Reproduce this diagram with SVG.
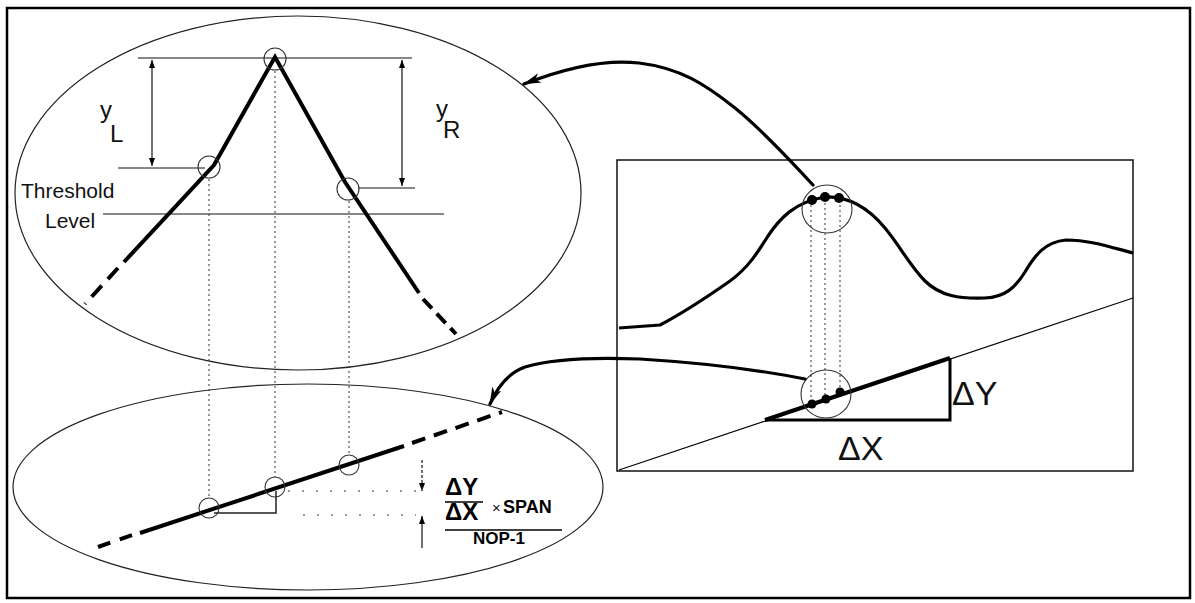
<svg xmlns="http://www.w3.org/2000/svg" width="1195" height="603" viewBox="0 0 1195 603">
<style>
.thin{fill:none;stroke:#111;stroke-width:1.2}
.ell{fill:none;stroke:#222;stroke-width:1.2}
.thick{fill:none;stroke:#000;stroke-width:4;stroke-linecap:butt}
.curve{fill:none;stroke:#000;stroke-width:3.2;stroke-linejoin:round}
.dot{fill:none;stroke:#333;stroke-width:1;stroke-dasharray:2 3}
.sparse{fill:none;stroke:#333;stroke-width:1.2;stroke-dasharray:2 12}
.ring{fill:none;stroke:#333;stroke-width:1.1}
.lbl{font-family:"Liberation Sans",Arial,sans-serif;fill:#111}
.bold{font-family:"Liberation Sans",Arial,sans-serif;font-weight:bold;fill:#000}
.conn{fill:none;stroke:#000;stroke-width:3.2;stroke-linecap:round}
</style>
<defs>
<marker id="head" viewBox="0 0 18 10" refX="17" refY="5" markerWidth="18" markerHeight="10" markerUnits="userSpaceOnUse" orient="auto">
<path d="M0,0 L18,5 L0,10 L5,5 z" fill="#000"/>
</marker>
<marker id="dim" viewBox="0 0 8 6" refX="8" refY="3" markerWidth="8" markerHeight="6" markerUnits="userSpaceOnUse" orient="auto-start-reverse">
<path d="M0,0 L8,3 L0,6 z" fill="#000"/>
</marker>
</defs>
<rect x="7" y="8" width="1183" height="590" fill="#fff" stroke="#000" stroke-width="2.5"/>

<g id="peak-detail">
<ellipse class="ell" cx="298" cy="193" rx="283" ry="177"/>
<line class="thin" x1="138" y1="58" x2="412" y2="58"/>
<line class="thin" x1="118" y1="168" x2="205" y2="168"/>
<line class="thin" x1="358" y1="188" x2="415" y2="188"/>
<line class="thin" x1="103" y1="214" x2="444" y2="214"/>
<line class="thin" x1="152" y1="60" x2="152" y2="166" marker-start="url(#dim)" marker-end="url(#dim)"/>
<line class="thin" x1="402" y1="60" x2="402" y2="186" marker-start="url(#dim)" marker-end="url(#dim)"/>
<path class="thick" d="M124,262 L214,165 L275,57 L345,182 L419,293"/>
<path class="thick" d="M118,268 L85,304" stroke-dasharray="15 9"/>
<path class="thick" d="M423,299 L456,334" stroke-dasharray="13 7"/>
<circle class="ring" cx="275" cy="59" r="11"/>
<circle class="ring" cx="209" cy="167" r="11"/>
<circle class="ring" cx="348" cy="189" r="11"/>
<text class="lbl" x="100" y="118" font-size="24">y</text>
<text class="lbl" x="110" y="142" font-size="24">L</text>
<text class="lbl" x="436" y="117" font-size="24">y</text>
<text class="lbl" x="443" y="138" font-size="24">R</text>
<text class="lbl" x="21" y="198" font-size="21">Threshold</text>
<text class="lbl" x="45" y="228" font-size="21">Level</text>
</g>

<g id="slope-detail">
<ellipse class="ell" cx="308" cy="487" rx="295" ry="103"/>
<path class="thick" d="M140,533 L404,446"/>
<path class="thick" d="M98,547 L138,533" stroke-dasharray="13 10"/>
<path class="thick" d="M412,443 L502,412" stroke-dasharray="14 9"/>
<circle class="ring" cx="209" cy="508" r="10"/>
<circle class="ring" cx="275" cy="487" r="10"/>
<circle class="ring" cx="349" cy="465" r="10"/>
<path fill="none" stroke="#222" stroke-width="1.5" d="M214,513 L276,513 L276,491"/>
<line class="sparse" x1="288" y1="491" x2="416" y2="491"/>
<line class="sparse" x1="303" y1="515" x2="416" y2="515"/>
<line class="thin" x1="422" y1="460" x2="422" y2="491" stroke-dasharray="3 2" marker-end="url(#dim)"/>
<line class="thin" x1="422" y1="548" x2="422" y2="516" marker-end="url(#dim)"/>
<text class="bold" x="445" y="495" font-size="24">ΔY</text>
<line x1="445" y1="502" x2="483" y2="502" stroke="#000" stroke-width="1.5"/>
<text class="bold" x="445" y="520" font-size="24">ΔX</text>
<text class="lbl" x="492" y="513" font-size="15">×</text>
<text class="bold" x="503" y="513" font-size="18">SPAN</text>
<line x1="445" y1="530" x2="562" y2="530" stroke="#000" stroke-width="1.5"/>
<text class="bold" x="473" y="544" font-size="17">NOP-1</text>
</g>

<g id="guides">
<line class="dot" x1="209" y1="179" x2="209" y2="498"/>
<line class="dot" x1="275" y1="71" x2="275" y2="477"/>
<line class="dot" x1="349" y1="201" x2="349" y2="455"/>
</g>

<g id="signal-plot">
<rect x="617" y="160" width="516" height="311" fill="none" stroke="#111" stroke-width="1.5"/>
<path class="curve" d="M619,328 L660,325 C685,312 710,295 730,281 C748,268 758,252 768,236 C780,218 795,202 825,197 C850,196 870,210 885,228 C900,246 910,266 925,281 C940,296 960,299 985,298 C1005,297 1015,288 1025,272 C1035,255 1045,242 1066,240 C1090,240 1110,247 1133,253"/>
<line x1="619" y1="470" x2="1133" y2="298" stroke="#000" stroke-width="1.2"/>
<path class="thick" d="M765,420 L950,358"/>
<path fill="none" stroke="#000" stroke-width="3" d="M950,358 L950,420 L765,420"/>
<line class="dot" x1="811" y1="205" x2="811" y2="402"/>
<line class="dot" x1="825" y1="203" x2="825" y2="398"/>
<line class="dot" x1="840" y1="205" x2="840" y2="392"/>
<ellipse class="ring" cx="827" cy="209" rx="25" ry="24"/>
<ellipse class="ring" cx="826" cy="394" rx="25" ry="24"/>
<circle cx="812" cy="200" r="5"/>
<circle cx="825" cy="197" r="5"/>
<circle cx="839" cy="198" r="5"/>
<circle cx="812" cy="404" r="4.5"/>
<circle cx="826" cy="399" r="4.5"/>
<circle cx="840" cy="392" r="4.5"/>
<text class="lbl" x="952" y="405" font-size="34">ΔY</text>
<text class="lbl" x="838" y="460" font-size="34">ΔX</text>
</g>

<g id="connectors">
<path class="conn" d="M813,185 C790,160 760,128 735,108 C705,84 680,68 639,63 C605,59 565,68 524,84" marker-end="url(#head)"/>
<path class="conn" d="M805,379 C770,372 720,364 640,359 C590,357 548,360 525,367 C508,373 498,386 490,404" marker-end="url(#head)"/>
</g>
</svg>
